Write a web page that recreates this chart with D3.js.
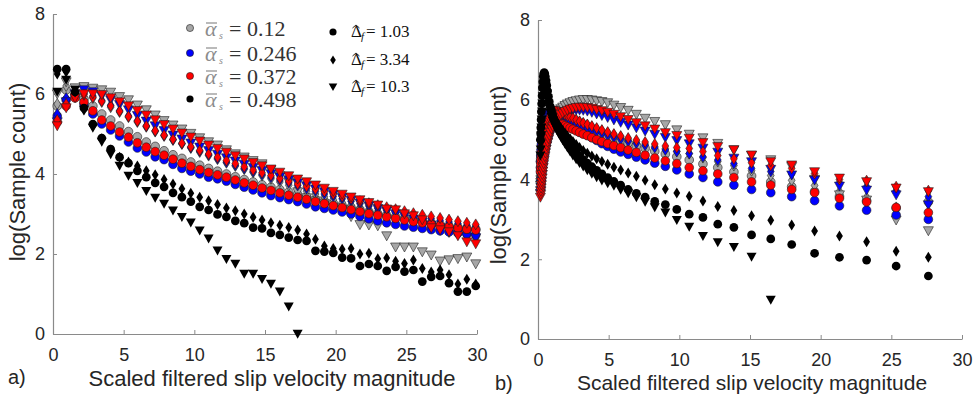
<!DOCTYPE html>
<html>
<head>
<meta charset="utf-8">
<script src="https://cdn.jsdelivr.net/npm/d3@7"></script>
<style>
  body { margin: 0; background: #fff; }
  svg { display: block; }
</style>
</head>
<body>
<svg id="chart" width="976" height="399"></svg>
<script>
// ---------- panel a) : uniform bins ----------
var xA = [0.3, 0.93, 1.56, 2.19, 2.82, 3.45, 4.08, 4.71, 5.34, 5.97, 6.6, 7.23, 7.86, 8.49, 9.12, 9.75,
  10.38, 11.01, 11.64, 12.27, 12.9, 13.53, 14.16, 14.79, 15.42, 16.05, 16.68, 17.31, 17.94, 18.57, 19.2, 19.83,
  20.46, 21.09, 21.72, 22.35, 22.98, 23.61, 24.24, 24.87, 25.5, 26.13, 26.76, 27.39, 28.02, 28.65, 29.28, 29.91];

var aGrayCircle = [5.7, 6.1, 6.0, 5.88, 5.7, 5.5, 5.35, 5.2, 5.06, 4.93, 4.8, 4.69, 4.58, 4.48, 4.39, 4.3,
  4.22, 4.14, 4.07, 4.0, 3.93, 3.86, 3.8, 3.73, 3.67, 3.61, 3.55, 3.49, 3.43, 3.37, 3.32, 3.27,
  3.21, 3.16, 3.11, 3.06, 3.01, 2.97, 2.93, 2.89, 2.85, 2.81, 2.77, 2.74, 2.7, 2.67, 2.64, 2.62];
var aGrayDiamond = [5.75, 6.2, 6.05, 6.0, 5.9, 5.8, 5.67, 5.55, 5.42, 5.3, 5.18, 5.06, 4.95, 4.85, 4.75, 4.65,
  4.55, 4.46, 4.37, 4.28, 4.2, 4.12, 4.04, 3.96, 3.88, 3.8, 3.72, 3.64, 3.57, 3.5, 3.43, 3.36,
  3.29, 3.22, 3.15, 3.08, 3.02, 2.96, 2.9, 2.84, 2.78, 2.72, 2.66, 2.6, 2.55, 2.5, 2.45, 2.4];
var aGrayTriangle = [6.0, 6.3, 6.15, 6.18, 6.14, 6.1, 6.04, 5.93, 5.85, 5.72, 5.6, 5.47, 5.33, 5.22, 5.12, 5.01,
  4.9, 4.8, 4.72, 4.6, 4.5, 4.42, 4.33, 4.25, 4.1, 3.95, 3.8, 3.55, 3.4, 3.32, 3.25, 3.15,
  3.1, 2.93, 2.73, 2.72, 2.7, 2.45, 2.17, 2.17, 2.17, 2.05, 1.97, 1.82, 1.85, 1.88, 1.92, 1.75];
var aBlueCircle = [5.45, 5.85, 5.95, 5.75, 5.5, 5.25, 5.1, 4.95, 4.8, 4.65, 4.55, 4.43, 4.36, 4.24, 4.14, 4.07,
  4.0, 3.92, 3.88, 3.82, 3.74, 3.67, 3.6, 3.53, 3.46, 3.41, 3.36, 3.31, 3.25, 3.18, 3.14, 3.1,
  3.05, 3.0, 2.94, 2.88, 2.83, 2.78, 2.74, 2.7, 2.67, 2.64, 2.61, 2.58, 2.55, 2.52, 2.5, 2.48];
var aBlueDiamond = [5.5, 5.9, 6.0, 6.02, 5.95, 5.84, 5.72, 5.58, 5.45, 5.33, 5.2, 5.08, 4.97, 4.86, 4.76, 4.66,
  4.57, 4.48, 4.39, 4.3, 4.22, 4.14, 4.06, 3.99, 3.92, 3.85, 3.78, 3.71, 3.64, 3.57, 3.5, 3.44,
  3.38, 3.32, 3.26, 3.2, 3.14, 3.09, 3.04, 3.0, 2.96, 2.92, 2.88, 2.84, 2.8, 2.76, 2.72, 2.7];
var aBlueTriangle = [5.3, 5.8, 6.0, 6.1, 6.05, 5.95, 5.85, 5.73, 5.6, 5.46, 5.32, 5.2, 5.08, 4.97, 4.87, 4.77,
  4.67, 4.58, 4.49, 4.4, 4.32, 4.24, 4.16, 4.08, 4.0, 3.92, 3.85, 3.77, 3.7, 3.62, 3.55, 3.48,
  3.41, 3.34, 3.27, 3.2, 3.13, 3.07, 3.0, 2.94, 2.87, 2.8, 2.72, 2.65, 2.58, 2.5, 2.42, 2.4];
var aRedCircle = [5.3, 5.7, 5.9, 5.8, 5.58, 5.35, 5.2, 5.05, 4.92, 4.78, 4.67, 4.56, 4.47, 4.37, 4.27, 4.19,
  4.11, 4.04, 3.98, 3.92, 3.85, 3.78, 3.72, 3.65, 3.59, 3.53, 3.47, 3.42, 3.37, 3.31, 3.26, 3.21,
  3.16, 3.11, 3.06, 3.01, 2.97, 2.93, 2.89, 2.85, 2.81, 2.78, 2.74, 2.71, 2.68, 2.65, 2.62, 2.6];
var aRedDiamond = [5.35, 5.75, 5.95, 5.98, 5.92, 5.82, 5.7, 5.57, 5.44, 5.32, 5.2, 5.08, 4.97, 4.87, 4.77, 4.68,
  4.59, 4.5, 4.42, 4.34, 4.26, 4.18, 4.1, 4.03, 3.96, 3.89, 3.82, 3.75, 3.69, 3.62, 3.56, 3.5,
  3.44, 3.38, 3.32, 3.27, 3.22, 3.17, 3.12, 3.07, 3.02, 2.98, 2.94, 2.9, 2.86, 2.82, 2.78, 2.74];
var aRedTriangle = [5.2, 5.65, 5.9, 6.0, 6.0, 5.98, 5.9, 5.8, 5.7, 5.58, 5.47, 5.35, 5.23, 5.12, 5.02, 4.92,
  4.82, 4.72, 4.63, 4.54, 4.45, 4.37, 4.28, 4.2, 4.12, 4.04, 3.95, 3.87, 3.8, 3.72, 3.64, 3.56,
  3.49, 3.42, 3.35, 3.28, 3.22, 3.12, 3.1, 3.0, 2.95, 2.85, 2.65, 2.6, 2.55, 2.45, 2.3, 2.25];
var aBlackCircle = [6.62, 6.62, 6.05, 5.65, 5.25, 4.9, 4.62, 4.42, 4.27, 4.08, 3.92, 3.78, 3.68, 3.53, 3.42, 3.31,
  3.18, 3.1, 2.99, 2.93, 2.83, 2.77, 2.66, 2.64, 2.53, 2.48, 2.41, 2.35, 2.33, 2.08, 2.06, 2.03,
  1.91, 1.89, 1.7, 1.75, 1.7, 1.58, 1.68, 1.56, 1.6, 1.31, 1.43, 1.45, 1.27, 1.06, 1.06, 1.2];
var aBlackDiamond = [6.5, 6.55, 6.05, 5.6, 5.2, 4.88, 4.6, 4.42, 4.3, 4.2, 4.08, 3.98, 3.86, 3.75, 3.63, 3.52,
  3.42, 3.33, 3.24, 3.15, 3.08, 3.0, 2.92, 2.85, 2.78, 2.72, 2.66, 2.6, 2.5, 2.37, 2.2, 2.14,
  2.12, 2.14, 2.0, 2.02, 1.88, 1.9, 1.82, 1.76, 1.85, 1.64, 1.55, 1.6, 1.48, 1.25, 1.37, 1.25];
var aBlackTriangle = [6.05, 6.35, 6.1, 5.6, 5.15, 4.8, 4.49, 4.2, 3.95, 3.77, 3.57, 3.4, 3.25, 3.08, 2.92, 2.78,
  2.58, 2.38, 2.08, 1.87, 1.75, 1.5, 1.5, 1.37, 1.25, 1.06, 0.68, 0.0];

// ---------- panel b) : log-spaced bins ----------
var xB = [0.17, 0.19, 0.20, 0.22, 0.24, 0.26, 0.29, 0.31, 0.34, 0.37, 0.40, 0.44, 0.48, 0.52, 0.57, 0.62,
  0.68, 0.74, 0.80, 0.88, 0.96, 1.04, 1.14, 1.24, 1.35, 1.47, 1.61, 1.75, 1.91, 2.08, 2.27, 2.47,
  2.70, 2.94, 3.20, 3.49, 3.81, 4.15, 4.52, 4.93, 5.37, 5.85, 6.38, 6.96, 7.58, 8.26, 9.01, 9.82,
  10.70, 11.67, 12.72, 13.86, 15.11, 16.47, 17.95, 19.57, 21.33, 23.25, 25.34, 27.62];

var bGrayCircle = [4.45, 4.52, 4.59, 4.66, 4.73, 4.8, 4.87, 4.94, 5.0, 5.06, 5.12, 5.18, 5.23, 5.28, 5.33, 5.37,
  5.41, 5.44, 5.47, 5.5, 5.52, 5.54, 5.55, 5.56, 5.56, 5.55, 5.54, 5.52, 5.5, 5.47, 5.44, 5.41,
  5.38, 5.34, 5.3, 5.26, 5.22, 5.17, 5.12, 5.07, 5.02, 4.97, 4.91, 4.85, 4.78, 4.71, 4.64, 4.57,
  4.49, 4.39, 4.3, 4.19, 4.09, 3.94, 3.82, 3.7, 3.58, 3.47, 3.28, 3.44];
var bGrayDiamond = [4.1, 4.18, 4.26, 4.34, 4.42, 4.5, 4.58, 4.66, 4.74, 4.82, 4.9, 4.98, 5.06, 5.14, 5.22, 5.3,
  5.37, 5.44, 5.5, 5.55, 5.6, 5.64, 5.67, 5.69, 5.7, 5.7, 5.69, 5.67, 5.64, 5.61, 5.57, 5.53,
  5.49, 5.45, 5.41, 5.37, 5.32, 5.27, 5.22, 5.17, 5.12, 5.07, 5.01, 4.95, 4.89, 4.83, 4.77, 4.71,
  4.65, 4.55, 4.45, 4.35, 4.22, 4.1, 3.98, 3.85, 3.7, 3.55, 3.3, 3.4];
var bGrayTriangle = [3.85, 3.92, 3.99, 4.06, 4.13, 4.2, 4.28, 4.36, 4.44, 4.52, 4.6, 4.68, 4.76, 4.84, 4.92, 5.0,
  5.08, 5.16, 5.24, 5.32, 5.4, 5.47, 5.54, 5.6, 5.66, 5.72, 5.77, 5.81, 5.85, 5.89, 5.92, 5.95,
  5.97, 5.99, 6.0, 6.0, 5.99, 5.97, 5.95, 5.92, 5.86, 5.8, 5.73, 5.63, 5.53, 5.45, 5.37, 5.24,
  5.13, 5.04, 4.9, 4.74, 4.6, 4.49, 4.32, 4.0, 3.61, 3.48, 2.98, 2.71];
var bBlueCircle = [4.3, 4.45, 4.6, 4.75, 4.88, 5.0, 5.12, 5.22, 5.32, 5.4, 5.47, 5.53, 5.58, 5.62, 5.65, 5.66,
  5.66, 5.65, 5.64, 5.63, 5.62, 5.6, 5.58, 5.56, 5.53, 5.5, 5.47, 5.44, 5.41, 5.38, 5.35, 5.3,
  5.24, 5.19, 5.15, 5.11, 5.05, 4.98, 4.9, 4.83, 4.76, 4.69, 4.63, 4.56, 4.49, 4.41, 4.33, 4.24,
  4.14, 4.05, 3.94, 3.86, 3.75, 3.67, 3.57, 3.47, 3.34, 3.23, 3.11, 3.0];
var bBlueDiamond = [4.0, 4.1, 4.2, 4.3, 4.4, 4.5, 4.6, 4.7, 4.8, 4.9, 5.0, 5.1, 5.2, 5.28, 5.36, 5.43,
  5.5, 5.55, 5.6, 5.64, 5.67, 5.69, 5.7, 5.7, 5.69, 5.67, 5.64, 5.61, 5.57, 5.53, 5.49, 5.45,
  5.41, 5.37, 5.33, 5.29, 5.25, 5.21, 5.16, 5.11, 5.06, 5.01, 4.96, 4.91, 4.86, 4.8, 4.74, 4.7,
  4.65, 4.57, 4.49, 4.4, 4.28, 4.2, 4.14, 4.05, 3.92, 3.82, 3.72, 3.57];
var bBlueTriangle = [3.65, 3.72, 3.8, 3.88, 3.96, 4.04, 4.12, 4.2, 4.28, 4.36, 4.44, 4.52, 4.6, 4.68, 4.76, 4.84,
  4.92, 5.0, 5.08, 5.15, 5.22, 5.29, 5.35, 5.41, 5.47, 5.52, 5.57, 5.61, 5.65, 5.68, 5.71, 5.73,
  5.74, 5.74, 5.73, 5.71, 5.68, 5.64, 5.6, 5.55, 5.49, 5.43, 5.36, 5.29, 5.21, 5.13, 5.05, 4.97,
  4.89, 4.78, 4.68, 4.53, 4.44, 4.25, 4.11, 3.98, 3.83, 3.73, 3.61, 3.36];
var bRedCircle = [4.2, 4.3, 4.4, 4.5, 4.6, 4.69, 4.78, 4.86, 4.94, 5.01, 5.08, 5.14, 5.2, 5.25, 5.3, 5.34,
  5.37, 5.4, 5.42, 5.44, 5.45, 5.46, 5.46, 5.45, 5.44, 5.42, 5.4, 5.38, 5.35, 5.32, 5.29, 5.26,
  5.22, 5.18, 5.14, 5.1, 5.05, 5.0, 4.95, 4.9, 4.85, 4.8, 4.74, 4.68, 4.61, 4.54, 4.47, 4.4,
  4.3, 4.22, 4.14, 4.05, 3.94, 3.86, 3.75, 3.67, 3.53, 3.44, 3.3, 3.17];
var bRedDiamond = [3.9, 4.0, 4.1, 4.2, 4.3, 4.4, 4.5, 4.6, 4.7, 4.8, 4.9, 5.0, 5.1, 5.19, 5.28, 5.36,
  5.44, 5.5, 5.56, 5.61, 5.65, 5.68, 5.7, 5.71, 5.71, 5.7, 5.68, 5.66, 5.63, 5.6, 5.57, 5.54,
  5.5, 5.46, 5.42, 5.38, 5.34, 5.29, 5.24, 5.19, 5.14, 5.09, 5.04, 4.99, 4.94, 4.89, 4.84, 4.8,
  4.78, 4.7, 4.6, 4.52, 4.42, 4.35, 4.28, 4.15, 4.0, 3.97, 3.82, 3.72];
var bRedTriangle = [3.55, 3.62, 3.7, 3.78, 3.86, 3.94, 4.03, 4.12, 4.21, 4.3, 4.39, 4.48, 4.57, 4.66, 4.75, 4.84,
  4.93, 5.02, 5.1, 5.18, 5.26, 5.33, 5.4, 5.46, 5.52, 5.57, 5.62, 5.66, 5.7, 5.73, 5.76, 5.78,
  5.8, 5.81, 5.81, 5.8, 5.78, 5.75, 5.72, 5.68, 5.63, 5.57, 5.5, 5.42, 5.34, 5.26, 5.17, 5.1,
  5.03, 4.92, 4.82, 4.74, 4.61, 4.44, 4.36, 4.19, 4.03, 3.94, 3.78, 3.69];
var bBlackCircle = [5.0, 5.15, 5.3, 5.5, 5.7, 5.9, 6.1, 6.3, 6.45, 6.58, 6.65, 6.68, 6.65, 6.58, 6.48, 6.36,
  6.22, 6.08, 5.95, 5.82, 5.72, 5.62, 5.52, 5.44, 5.36, 5.28, 5.2, 5.12, 5.04, 4.95, 4.86, 4.77,
  4.68, 4.59, 4.5, 4.41, 4.32, 4.23, 4.14, 4.05, 3.95, 3.86, 3.75, 3.65, 3.56, 3.45, 3.37, 3.25,
  3.13, 3.05, 2.88, 2.8, 2.61, 2.51, 2.37, 2.15, 2.05, 1.98, 1.83, 1.58];
var bBlackDiamond = [4.8, 4.95, 5.1, 5.3, 5.5, 5.7, 5.9, 6.1, 6.28, 6.42, 6.52, 6.56, 6.55, 6.5, 6.42, 6.32,
  6.2, 6.07, 5.95, 5.83, 5.73, 5.64, 5.56, 5.49, 5.42, 5.36, 5.3, 5.23, 5.16, 5.09, 5.02, 4.95,
  4.88, 4.8, 4.73, 4.66, 4.59, 4.52, 4.45, 4.38, 4.31, 4.24, 4.16, 4.08, 3.98, 3.87, 3.76, 3.66,
  3.58, 3.46, 3.32, 3.22, 3.09, 2.98, 2.86, 2.71, 2.58, 2.44, 2.2, 2.05];
var bBlackTriangle = [4.6, 4.75, 4.9, 5.1, 5.3, 5.5, 5.7, 5.9, 6.08, 6.22, 6.32, 6.38, 6.38, 6.33, 6.25, 6.15,
  6.03, 5.9, 5.78, 5.66, 5.56, 5.47, 5.39, 5.31, 5.23, 5.15, 5.07, 4.98, 4.89, 4.8, 4.7, 4.6,
  4.5, 4.41, 4.32, 4.23, 4.14, 4.05, 3.97, 3.9, 3.84, 3.74, 3.65, 3.55, 3.44, 3.3, 3.17, 2.98,
  2.81, 2.58, 2.42, 2.3, 2.06, 0.98];

var xTicks = [0, 5, 10, 15, 20, 25, 30];
var yTicks = [0, 2, 4, 6, 8];
var alphaLabels = ["0.12", "0.246", "0.372", "0.498"];
var deltaLabels = ["1.03", "3.34", "10.3"];

// ---------- styling ----------
var fills = ["#a6a6a6", "#0000ff", "#ff0000", "#000000"];
var shapes = {
  circle: d3.symbol(d3.symbolCircle, 60)(),
  diamond: "M0,-5.5L3.4,0L0,5.5L-3.4,0Z",
  triangle: "M-5,-4.2L5,-4.2L0,4.8Z"
};
var smallShapes = {
  circle: d3.symbol(d3.symbolCircle, 40)(),
  diamond: "M0,-4.6L2.8,0L0,4.6L-2.8,0Z",
  triangle: "M-4.3,-3.6L4.3,-3.6L0,4Z"
};
var sans = "'Liberation Sans', Arial, sans-serif";
var serif = "'Liberation Serif', 'Times New Roman', serif";

var svg = d3.select("#chart");

var panels = [
  { xs: xA, left: 53, right: 477, top: 14, bottom: 334, tag: "a)", tagX: 8, tagY: 384,
    labelX: 272, labelY: 386, labelSize: 22, yLabelX: 17, yLabelY: 172,
    series: [
      [aGrayCircle, 0, "circle"], [aGrayDiamond, 0, "diamond"], [aGrayTriangle, 0, "triangle"],
      [aBlueCircle, 1, "circle"], [aBlueDiamond, 1, "diamond"], [aBlueTriangle, 1, "triangle"],
      [aRedCircle, 2, "circle"], [aRedDiamond, 2, "diamond"], [aRedTriangle, 2, "triangle"],
      [aBlackCircle, 3, "circle"], [aBlackDiamond, 3, "diamond"], [aBlackTriangle, 3, "triangle"]
    ] },
  { xs: xB, left: 538, right: 962, top: 20, bottom: 339, tag: "b)", tagX: 495, tagY: 390,
    labelX: 752, labelY: 390, labelSize: 21, yLabelX: 498, yLabelY: 175,
    series: [
      [bGrayCircle, 0, "circle"], [bGrayDiamond, 0, "diamond"], [bGrayTriangle, 0, "triangle"],
      [bBlueCircle, 1, "circle"], [bBlueDiamond, 1, "diamond"], [bBlueTriangle, 1, "triangle"],
      [bRedCircle, 2, "circle"], [bRedDiamond, 2, "diamond"], [bRedTriangle, 2, "triangle"],
      [bBlackCircle, 3, "circle"], [bBlackDiamond, 3, "diamond"], [bBlackTriangle, 3, "triangle"]
    ] }
];

panels.forEach(function (p) {
  var x = d3.scaleLinear().domain([0, 30]).range([p.left, p.right]);
  var y = d3.scaleLinear().domain([0, 8]).range([p.bottom, p.top]);

  var gx = svg.append("g")
    .attr("transform", "translate(0," + p.bottom + ")")
    .call(d3.axisBottom(x).tickValues(xTicks).tickSizeInner(-4).tickSizeOuter(0).tickPadding(14));
  var gy = svg.append("g")
    .attr("transform", "translate(" + p.left + ",0)")
    .call(d3.axisLeft(y).tickValues(yTicks).tickSizeInner(-4).tickSizeOuter(0).tickPadding(8));

  [gx, gy].forEach(function (g) {
    g.select(".domain").attr("stroke", "#8a8a8a").attr("stroke-width", 1.2);
    g.selectAll(".tick line").attr("stroke", "#8a8a8a");
    g.selectAll(".tick text").attr("fill", "#262626")
      .style("font-family", sans).style("font-size", "18px");
  });

  // markers, one group per series
  p.series.forEach(function (s) {
    var vals = s[0], ci = s[1], shape = s[2];
    svg.append("g")
      .selectAll("path")
      .data(vals)
      .enter().append("path")
      .attr("d", shapes[shape])
      .attr("transform", function (d, i) { return "translate(" + x(p.xs[i]) + "," + y(d) + ")"; })
      .attr("fill", fills[ci])
      .attr("stroke", ci === 3 ? "none" : "#1e1e1e")
      .attr("stroke-width", 0.6);
  });

  svg.append("text")
    .attr("x", p.labelX).attr("y", p.labelY)
    .attr("text-anchor", "middle")
    .attr("fill", "#262626")
    .style("font-family", sans).style("font-size", p.labelSize + "px")
    .text("Scaled filtered slip velocity magnitude");

  svg.append("text")
    .attr("transform", "translate(" + p.yLabelX + "," + p.yLabelY + ") rotate(-90)")
    .attr("text-anchor", "middle")
    .attr("dominant-baseline", "central")
    .attr("fill", "#262626")
    .style("font-family", sans).style("font-size", "22px")
    .text("log(Sample count)");

  svg.append("text")
    .attr("x", p.tagX).attr("y", p.tagY)
    .attr("fill", "#262626")
    .style("font-family", sans).style("font-size", "20px")
    .text(p.tag);
});

// ---------- legend (panel a) ----------
var alphaRows = [28, 53, 76, 99];
var aLeg = svg.append("g");
alphaLabels.forEach(function (lab, i) {
  var my = alphaRows[i];
  aLeg.append("path").attr("d", smallShapes.circle)
    .attr("transform", "translate(190," + my + ")")
    .attr("fill", fills[i])
    .attr("stroke", i === 3 ? "none" : "#1e1e1e").attr("stroke-width", 0.6);
  aLeg.append("line")
    .attr("x1", 206).attr("x2", 217).attr("y1", my - 5).attr("y2", my - 5)
    .attr("stroke", "#8c8c8c").attr("stroke-width", 1.2);
  aLeg.append("text")
    .attr("x", 205).attr("y", my + 8)
    .attr("fill", "#8c8c8c")
    .style("font-family", serif).style("font-size", "22px").style("font-style", "italic")
    .text("α");
  aLeg.append("text")
    .attr("x", 219).attr("y", my + 11)
    .attr("fill", "#8c8c8c")
    .style("font-family", serif).style("font-size", "10px").style("font-style", "italic")
    .text("s");
  aLeg.append("text")
    .attr("x", 229).attr("y", my + 8)
    .attr("fill", "#333")
    .style("font-family", serif).style("font-size", "22px")
    .text("= " + lab);
});

var deltaRows = [32, 60, 87];
var deltaShapes = ["circle", "diamond", "triangle"];
deltaLabels.forEach(function (lab, i) {
  var my = deltaRows[i];
  aLeg.append("path").attr("d", smallShapes[deltaShapes[i]])
    .attr("transform", "translate(333," + my + ")")
    .attr("fill", "#000");
  aLeg.append("path")
    .attr("d", "M352.5," + (my - 4) + "L356," + (my - 7) + "L359.5," + (my - 4))
    .attr("fill", "none").attr("stroke", "#111").attr("stroke-width", 0.9);
  aLeg.append("text")
    .attr("x", 351).attr("y", my + 5)
    .attr("fill", "#111")
    .style("font-family", serif).style("font-size", "17px")
    .text("Δ");
  aLeg.append("text")
    .attr("x", 361).attr("y", my + 8)
    .attr("fill", "#111")
    .style("font-family", serif).style("font-size", "11px").style("font-style", "italic")
    .text("f");
  aLeg.append("text")
    .attr("x", 366).attr("y", my + 5)
    .attr("fill", "#111")
    .style("font-family", serif).style("font-size", "17px")
    .text("= " + lab);
});
</script>
</body>
</html>
